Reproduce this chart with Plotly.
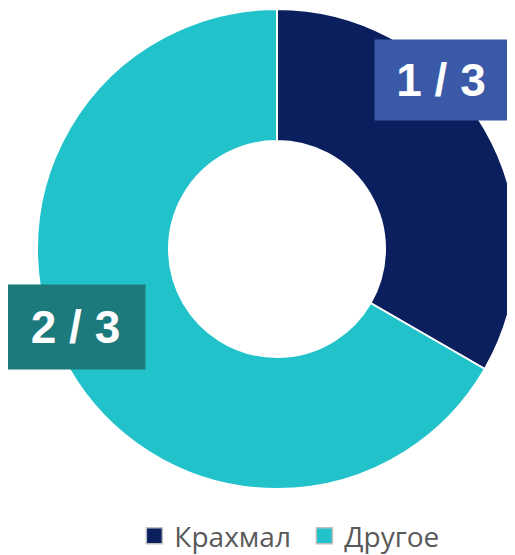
import plotly.graph_objects as go

categories = ["Крахмал", "Другое"]
values = [1, 2]
label_texts = ["1 / 3", "2 / 3"]
slice_colors = ["#0B1F5E", "#22C2CB"]
box_colors = ["#3A5AA8", "#1C7A7C"]

fig = go.Figure()
fig.add_trace(go.Pie(
    labels=categories,
    values=values,
    hole=0.45,
    sort=False,
    direction="clockwise",
    rotation=0,
    textinfo="none",
    hoverinfo="label+percent",
    showlegend=False,
    marker=dict(colors=slice_colors, line=dict(color="white", width=2)),
    domain=dict(x=[0, 1], y=[0, 1]),
))

# legend entries with larger square swatches
for name, col in zip(categories, slice_colors):
    fig.add_trace(go.Scatter(
        x=[None], y=[None], mode="markers", name=name,
        marker=dict(symbol="square", size=16, color=col,
                    line=dict(color="#BFBFBF", width=1.5)),
        showlegend=True, hoverinfo="skip",
    ))

ann_pos = [(0.842, 0.852, 130, 78), (0.081, 0.338, 137, 82)]
for txt, col, (ax, ay, w, h) in zip(label_texts, box_colors, ann_pos):
    fig.add_annotation(
        x=ax, y=ay, xref="paper", yref="paper",
        xanchor="center", yanchor="middle",
        text=txt, showarrow=False,
        font=dict(family="Liberation Sans, Arial", size=46, color="white", weight="bold"),
        bgcolor=col, width=w, height=h, align="center", valign="middle",
    )

fig.update_layout(
    width=515, height=555,
    margin=dict(l=29, r=6, t=1, b=74),
    paper_bgcolor="white", plot_bgcolor="white",
    xaxis=dict(visible=False), yaxis=dict(visible=False),
    showlegend=True,
    legend=dict(
        orientation="h", x=0.557, xanchor="center", y=-0.098, yanchor="middle",
        font=dict(family="Open Sans, sans-serif", size=28, color="#595959"),
        itemwidth=30, traceorder="normal", itemsizing="trace",
        entrywidth=125, entrywidthmode="pixels",
    ),
)

fig.write_html("out.html")
